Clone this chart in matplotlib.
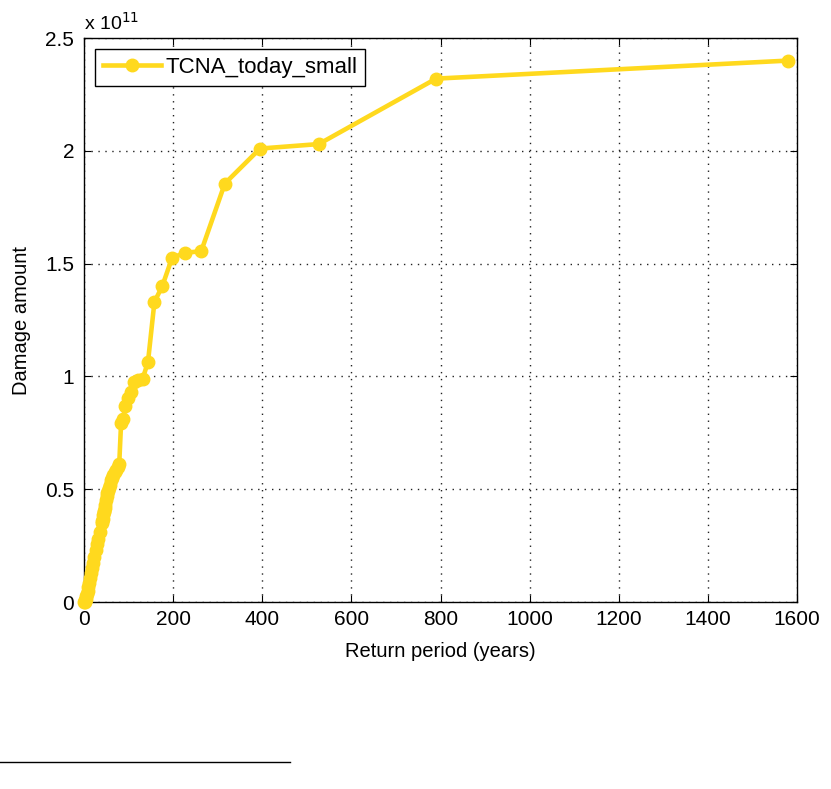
import numpy as np
import matplotlib.pyplot as plt
from matplotlib.lines import Line2D
from matplotlib.ticker import FormatStrFormatter

plt.rcParams['font.family'] = ['Liberation Sans', 'DejaVu Sans']

# return period (years) and damage (x 1e11)
return_period = [1580, 790, 527, 395, 316, 263, 226, 197.5, 175.6, 158,
                 143.6, 131.7, 121.5, 112.9, 105.3, 98.8, 92.9, 87.8, 83.2, 79.0,
                 75.2, 71.8, 68.7, 65.8, 63.2, 60.8, 58.5, 56.4, 54.5, 52.7,
                 51.0, 49.4, 47.9, 46.5, 45.1, 43.9, 42.7, 41.6, 40.5, 39.5,
                 35.1, 31.6, 28.7, 26.3, 22.6, 19.8, 17.6, 15.8, 13.2, 11.3,
                 9.3, 7.9, 6.3, 5.3, 4.0, 3.2, 2.3, 1.6, 1.0]
damage = [2.40, 2.32, 2.03, 2.01, 1.855, 1.555, 1.548, 1.525, 1.40, 1.33,
          1.065, 0.99, 0.985, 0.975, 0.93, 0.905, 0.87, 0.81, 0.795, 0.61,
          0.60, 0.585, 0.575, 0.565, 0.55, 0.54, 0.52, 0.505, 0.49, 0.485,
          0.47, 0.45, 0.43, 0.415, 0.405, 0.40, 0.385, 0.37, 0.36, 0.35,
          0.31, 0.28, 0.255, 0.23, 0.20, 0.175, 0.15, 0.13, 0.105, 0.085,
          0.065, 0.05, 0.035, 0.025, 0.015, 0.01, 0.005, 0.002, 0.0]
series_name = "TCNA_today_small"

x_ticks = [0, 200, 400, 600, 800, 1000, 1200, 1400, 1600]
y_ticks = [0, 0.5, 1, 1.5, 2, 2.5]

fig = plt.figure(figsize=(8.31, 7.89), dpi=100)
ax = fig.add_axes([0.1011, 0.2370, 0.8580, 0.7148])

gold = '#FFD91E'
ax.plot(return_period, damage, '-o', color=gold, linewidth=3.3, markersize=9,
        markeredgecolor=gold, label=series_name, clip_on=False, zorder=3)

ax.set_xlim(0, 1600)
ax.set_ylim(0, 2.5)
ax.set_xticks(x_ticks)
ax.set_yticks(y_ticks)
ax.yaxis.set_major_formatter(FormatStrFormatter('%g'))
ax.tick_params(direction='in', top=True, right=True, labelsize=15, length=5, width=0.8)
ax.tick_params(axis='x', pad=6)
ax.tick_params(axis='y', pad=7)
ax.grid(True, linestyle=(0, (1, 4)), color='#222222', linewidth=1.0)
for s in ax.spines.values():
    s.set_linewidth(1.0)
    s.set_zorder(2.5)

ax.set_xlabel('Return period (years)', fontsize=14.5, labelpad=9)
ax.set_ylabel('Damage amount', fontsize=14.5, labelpad=10)
ax.text(0, 1.008, r'x 10$^{11}$', transform=ax.transAxes, fontsize=14, va='bottom', ha='left')

leg = ax.legend(loc='upper left', fontsize=16, fancybox=False, framealpha=1,
                edgecolor='black', borderaxespad=0.5, handlelength=2.6,
                borderpad=0.35, handletextpad=0.2)
leg.get_frame().set_linewidth(1.0)

# separator line at the bottom of the page
fig.add_artist(Line2D([0, 0.349], [0.0342, 0.0342], color='black', linewidth=1))

fig.savefig('out.png', dpi=100)
